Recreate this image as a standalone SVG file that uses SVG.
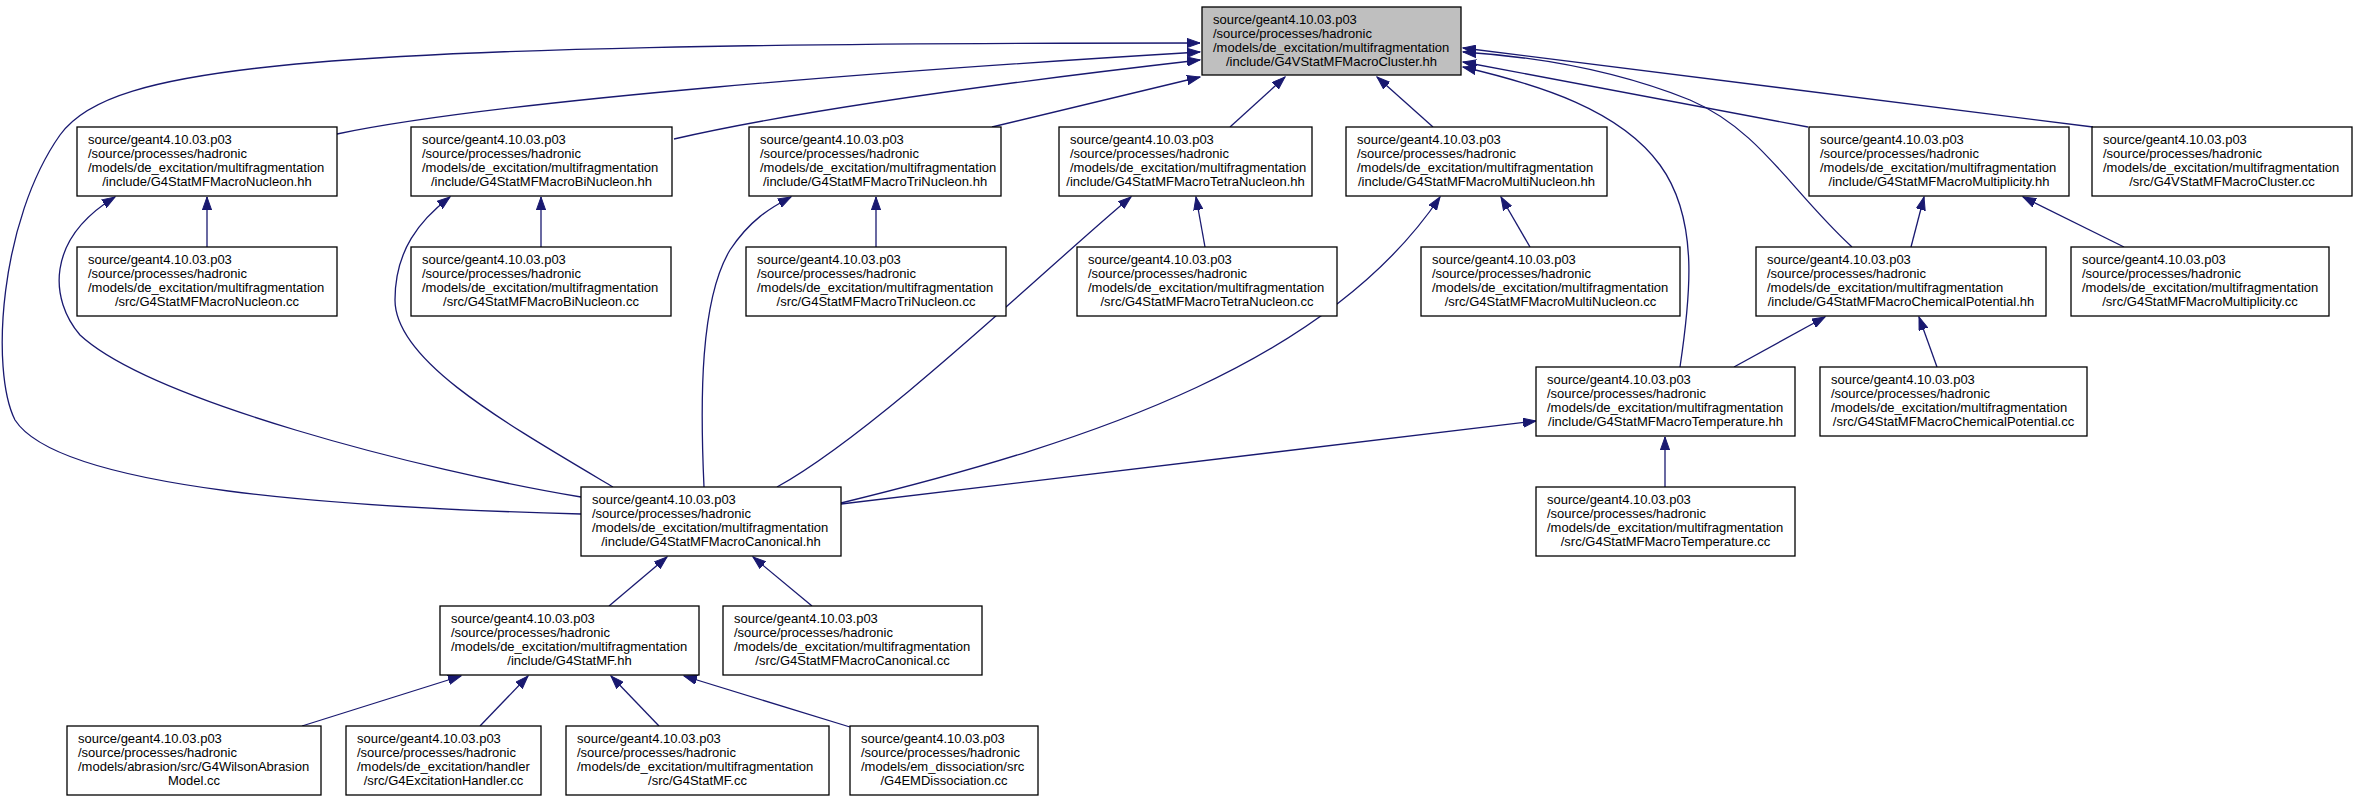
<svg xmlns="http://www.w3.org/2000/svg" width="2356" height="803" viewBox="0 0 2356 803">
<style>
.n rect{fill:#ffffff;stroke:#000000;stroke-width:1.3}
#n0 rect{fill:#bfbfbf}
text{font-family:"Liberation Sans",Arial,Helvetica,sans-serif;font-size:13px;fill:#000000}
.c{text-anchor:middle}
#edges path{fill:none;stroke:#191970;stroke-width:1.3;marker-end:url(#ah)}
</style>
<defs>
<marker id="ah" markerWidth="14" markerHeight="10" refX="13" refY="5" orient="auto" markerUnits="userSpaceOnUse">
<path d="M0,0.4 L13,5 L0,9.6 Z" fill="#191970" stroke="#191970" stroke-width="1"/>
</marker>
</defs>
<rect x="0" y="0" width="2356" height="803" fill="#ffffff"/>
<g id="edges">
<path d="M581,514 C350,508 60,490 15,420 C-10,370 0,220 60,135 C110,65 300,43 1200,43"/>
<path d="M337,134 C500,100 900,70 1200,52"/>
<path d="M674,139 C800,110 1000,83 1200,60"/>
<path d="M992,127 L1200,77"/>
<path d="M1230,127 L1285,77"/>
<path d="M1433,127 L1377,77"/>
<path d="M1808,127 L1463,62"/>
<path d="M2093,127 L1463,48"/>
<path d="M1852,247 C1790,190 1760,130 1690,100 C1620,72 1540,57 1463,52"/>
<path d="M1680,367 C1690,300 1700,220 1660,165 C1620,110 1540,85 1463,67"/>
<path d="M207,247 L207,197"/>
<path d="M581,497 C420,470 150,400 80,335 C50,300 45,240 115,197"/>
<path d="M541,247 L541,197"/>
<path d="M613,487 C500,420 395,360 395,300 C395,250 420,220 450,197"/>
<path d="M876,247 L876,197"/>
<path d="M704,487 C700,400 700,300 730,250 C750,220 770,208 791,197"/>
<path d="M1205,247 L1196,197"/>
<path d="M777,487 C880,430 1060,255 1131,197"/>
<path d="M1530,247 L1501,197"/>
<path d="M841,503 C1100,440 1330,360 1440,197"/>
<path d="M1911,247 L1924,197"/>
<path d="M2124,247 L2023,197"/>
<path d="M1734,367 L1825,317"/>
<path d="M1937,367 L1919,317"/>
<path d="M841,504 C1100,475 1350,445 1536,421"/>
<path d="M1665,487 L1665,437"/>
<path d="M609,606 L667,557"/>
<path d="M812,606 L753,557"/>
<path d="M302,726 L461,676"/>
<path d="M480,726 L528,676"/>
<path d="M659,726 L611,676"/>
<path d="M850,727 L684,676"/>
</g>
<g id="n0" class="n"><rect x="1202" y="7" width="259" height="68"/>
<text x="1213" y="23.5">source/geant4.10.03.p03</text><text x="1213" y="37.7">/source/processes/hadronic</text><text x="1213" y="51.9">/models/de_excitation/multifragmentation</text><text class="c" x="1331.5" y="66.1">/include/G4VStatMFMacroCluster.hh</text></g>
<g id="nuc_hh" class="n"><rect x="77" y="127" width="260" height="69"/>
<text x="88" y="143.5">source/geant4.10.03.p03</text><text x="88" y="157.7">/source/processes/hadronic</text><text x="88" y="171.9">/models/de_excitation/multifragmentation</text><text class="c" x="207" y="186.1">/include/G4StatMFMacroNucleon.hh</text></g>
<g id="bi_hh" class="n"><rect x="411" y="127" width="261" height="69"/>
<text x="422" y="143.5">source/geant4.10.03.p03</text><text x="422" y="157.7">/source/processes/hadronic</text><text x="422" y="171.9">/models/de_excitation/multifragmentation</text><text class="c" x="541.5" y="186.1">/include/G4StatMFMacroBiNucleon.hh</text></g>
<g id="tri_hh" class="n"><rect x="749" y="127" width="252" height="69"/>
<text x="760" y="143.5">source/geant4.10.03.p03</text><text x="760" y="157.7">/source/processes/hadronic</text><text x="760" y="171.9">/models/de_excitation/multifragmentation</text><text class="c" x="875" y="186.1">/include/G4StatMFMacroTriNucleon.hh</text></g>
<g id="tetra_hh" class="n"><rect x="1059" y="127" width="253" height="69"/>
<text x="1070" y="143.5">source/geant4.10.03.p03</text><text x="1070" y="157.7">/source/processes/hadronic</text><text x="1070" y="171.9">/models/de_excitation/multifragmentation</text><text class="c" x="1185.5" y="186.1">/include/G4StatMFMacroTetraNucleon.hh</text></g>
<g id="multi_hh" class="n"><rect x="1346" y="127" width="261" height="69"/>
<text x="1357" y="143.5">source/geant4.10.03.p03</text><text x="1357" y="157.7">/source/processes/hadronic</text><text x="1357" y="171.9">/models/de_excitation/multifragmentation</text><text class="c" x="1476.5" y="186.1">/include/G4StatMFMacroMultiNucleon.hh</text></g>
<g id="mult_hh" class="n"><rect x="1809" y="127" width="260" height="69"/>
<text x="1820" y="143.5">source/geant4.10.03.p03</text><text x="1820" y="157.7">/source/processes/hadronic</text><text x="1820" y="171.9">/models/de_excitation/multifragmentation</text><text class="c" x="1939" y="186.1">/include/G4StatMFMacroMultiplicity.hh</text></g>
<g id="cluster_cc" class="n"><rect x="2092" y="127" width="260" height="69"/>
<text x="2103" y="143.5">source/geant4.10.03.p03</text><text x="2103" y="157.7">/source/processes/hadronic</text><text x="2103" y="171.9">/models/de_excitation/multifragmentation</text><text class="c" x="2222" y="186.1">/src/G4VStatMFMacroCluster.cc</text></g>
<g id="nuc_cc" class="n"><rect x="77" y="247" width="260" height="69"/>
<text x="88" y="263.5">source/geant4.10.03.p03</text><text x="88" y="277.7">/source/processes/hadronic</text><text x="88" y="291.9">/models/de_excitation/multifragmentation</text><text class="c" x="207" y="306.1">/src/G4StatMFMacroNucleon.cc</text></g>
<g id="bi_cc" class="n"><rect x="411" y="247" width="260" height="69"/>
<text x="422" y="263.5">source/geant4.10.03.p03</text><text x="422" y="277.7">/source/processes/hadronic</text><text x="422" y="291.9">/models/de_excitation/multifragmentation</text><text class="c" x="541" y="306.1">/src/G4StatMFMacroBiNucleon.cc</text></g>
<g id="tri_cc" class="n"><rect x="746" y="247" width="260" height="69"/>
<text x="757" y="263.5">source/geant4.10.03.p03</text><text x="757" y="277.7">/source/processes/hadronic</text><text x="757" y="291.9">/models/de_excitation/multifragmentation</text><text class="c" x="876" y="306.1">/src/G4StatMFMacroTriNucleon.cc</text></g>
<g id="tetra_cc" class="n"><rect x="1077" y="247" width="260" height="69"/>
<text x="1088" y="263.5">source/geant4.10.03.p03</text><text x="1088" y="277.7">/source/processes/hadronic</text><text x="1088" y="291.9">/models/de_excitation/multifragmentation</text><text class="c" x="1207" y="306.1">/src/G4StatMFMacroTetraNucleon.cc</text></g>
<g id="multi_cc" class="n"><rect x="1421" y="247" width="259" height="69"/>
<text x="1432" y="263.5">source/geant4.10.03.p03</text><text x="1432" y="277.7">/source/processes/hadronic</text><text x="1432" y="291.9">/models/de_excitation/multifragmentation</text><text class="c" x="1550.5" y="306.1">/src/G4StatMFMacroMultiNucleon.cc</text></g>
<g id="chem_hh" class="n"><rect x="1756" y="247" width="290" height="69"/>
<text x="1767" y="263.5">source/geant4.10.03.p03</text><text x="1767" y="277.7">/source/processes/hadronic</text><text x="1767" y="291.9">/models/de_excitation/multifragmentation</text><text class="c" x="1901" y="306.1">/include/G4StatMFMacroChemicalPotential.hh</text></g>
<g id="mult_cc" class="n"><rect x="2071" y="247" width="258" height="69"/>
<text x="2082" y="263.5">source/geant4.10.03.p03</text><text x="2082" y="277.7">/source/processes/hadronic</text><text x="2082" y="291.9">/models/de_excitation/multifragmentation</text><text class="c" x="2200" y="306.1">/src/G4StatMFMacroMultiplicity.cc</text></g>
<g id="temp_hh" class="n"><rect x="1536" y="367" width="259" height="69"/>
<text x="1547" y="383.5">source/geant4.10.03.p03</text><text x="1547" y="397.7">/source/processes/hadronic</text><text x="1547" y="411.9">/models/de_excitation/multifragmentation</text><text class="c" x="1665.5" y="426.1">/include/G4StatMFMacroTemperature.hh</text></g>
<g id="chem_cc" class="n"><rect x="1820" y="367" width="267" height="69"/>
<text x="1831" y="383.5">source/geant4.10.03.p03</text><text x="1831" y="397.7">/source/processes/hadronic</text><text x="1831" y="411.9">/models/de_excitation/multifragmentation</text><text class="c" x="1953.5" y="426.1">/src/G4StatMFMacroChemicalPotential.cc</text></g>
<g id="canon_hh" class="n"><rect x="581" y="487" width="260" height="69"/>
<text x="592" y="503.5">source/geant4.10.03.p03</text><text x="592" y="517.7">/source/processes/hadronic</text><text x="592" y="531.9">/models/de_excitation/multifragmentation</text><text class="c" x="711" y="546.1">/include/G4StatMFMacroCanonical.hh</text></g>
<g id="temp_cc" class="n"><rect x="1536" y="487" width="259" height="69"/>
<text x="1547" y="503.5">source/geant4.10.03.p03</text><text x="1547" y="517.7">/source/processes/hadronic</text><text x="1547" y="531.9">/models/de_excitation/multifragmentation</text><text class="c" x="1665.5" y="546.1">/src/G4StatMFMacroTemperature.cc</text></g>
<g id="statmf_hh" class="n"><rect x="440" y="606" width="259" height="69"/>
<text x="451" y="622.5">source/geant4.10.03.p03</text><text x="451" y="636.7">/source/processes/hadronic</text><text x="451" y="650.9">/models/de_excitation/multifragmentation</text><text class="c" x="569.5" y="665.1">/include/G4StatMF.hh</text></g>
<g id="canon_cc" class="n"><rect x="723" y="606" width="259" height="69"/>
<text x="734" y="622.5">source/geant4.10.03.p03</text><text x="734" y="636.7">/source/processes/hadronic</text><text x="734" y="650.9">/models/de_excitation/multifragmentation</text><text class="c" x="852.5" y="665.1">/src/G4StatMFMacroCanonical.cc</text></g>
<g id="wilson" class="n"><rect x="67" y="726" width="254" height="69"/>
<text x="78" y="742.5">source/geant4.10.03.p03</text><text x="78" y="756.7">/source/processes/hadronic</text><text x="78" y="770.9">/models/abrasion/src/G4WilsonAbrasion</text><text class="c" x="194" y="785.1">Model.cc</text></g>
<g id="exc" class="n"><rect x="346" y="726" width="195" height="69"/>
<text x="357" y="742.5">source/geant4.10.03.p03</text><text x="357" y="756.7">/source/processes/hadronic</text><text x="357" y="770.9">/models/de_excitation/handler</text><text class="c" x="443.5" y="785.1">/src/G4ExcitationHandler.cc</text></g>
<g id="statmf_cc" class="n"><rect x="566" y="726" width="263" height="69"/>
<text x="577" y="742.5">source/geant4.10.03.p03</text><text x="577" y="756.7">/source/processes/hadronic</text><text x="577" y="770.9">/models/de_excitation/multifragmentation</text><text class="c" x="697.5" y="785.1">/src/G4StatMF.cc</text></g>
<g id="emdiss" class="n"><rect x="850" y="726" width="188" height="69"/>
<text x="861" y="742.5">source/geant4.10.03.p03</text><text x="861" y="756.7">/source/processes/hadronic</text><text x="861" y="770.9">/models/em_dissociation/src</text><text class="c" x="944" y="785.1">/G4EMDissociation.cc</text></g>
</svg>
